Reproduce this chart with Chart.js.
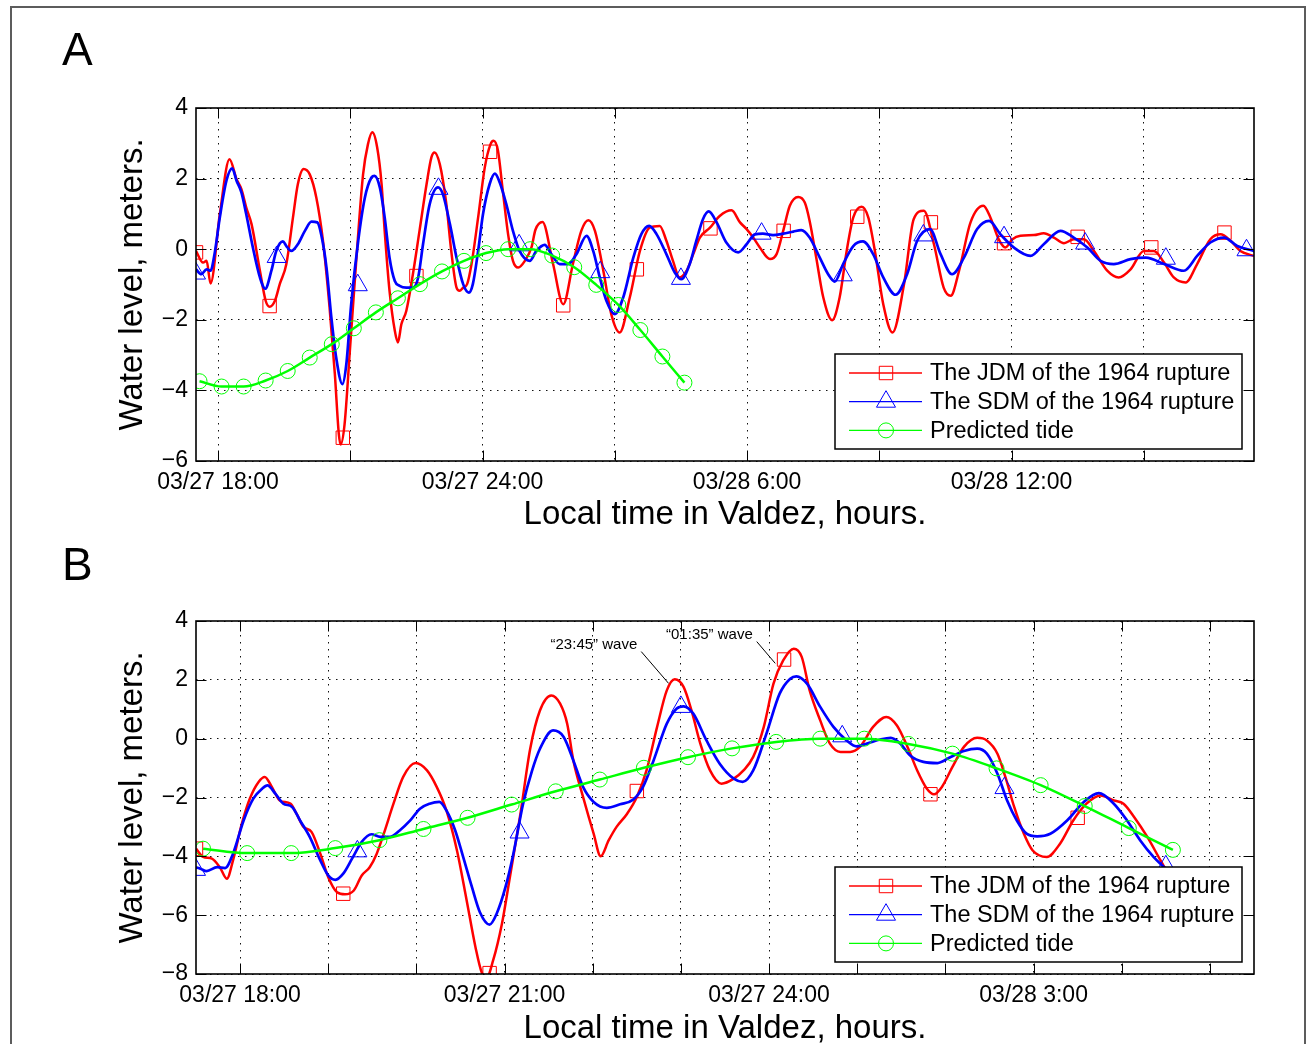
<!DOCTYPE html>
<html>
<head>
<meta charset="utf-8">
<title>Water level in Valdez</title>
<script src="https://cdn.jsdelivr.net/npm/chart.js@4.4.1/dist/chart.umd.min.js"></script>
<style>
  html, body { margin: 0; padding: 0; background: #fff; overflow: hidden; }
  body { width: 1308px; height: 1044px; position: relative; }
  #frame { position: absolute; left: 10px; top: 6px; width: 1292px; height: 1100px; border: 2px solid #5c5c5c; }
  canvas { position: absolute; left: 0; }
  #chartA { top: 0; }
  #chartB { top: 535px; }
</style>
</head>
<body>
<div id="frame"></div>
<canvas id="chartA" width="1308" height="535"></canvas>
<canvas id="chartB" width="1308" height="515"></canvas>
<script>
// ---- data (time in hours from 03/27 00:00, level in meters) ----
const legendLabels = ['The JDM of the 1964 rupture', 'The SDM of the 1964 rupture', 'Predicted tide'];
const yTitle = 'Water level, meters.';
const xTitle = 'Local time in Valdez, hours.';

// panel A
const gridHoursA = [18, 21, 24, 27, 30, 33, 36, 39];
const tickHoursA = [18, 24, 30, 36];
const tickLabelsA = ['03/27 18:00', '03/27 24:00', '03/28 6:00', '03/28 12:00'];

const jdmA = [
  [17.50,-0.05],[17.66,-0.38],[17.74,-0.33],[17.83,-0.97],[18.04,0.99],[18.26,2.55],[18.42,1.98],[18.53,1.70],
  [18.64,1.18],[18.76,0.71],[18.95,-0.61],[19.08,-1.46],[19.17,-1.63],[19.29,-1.46],[19.40,-0.99],[19.55,-0.42],
  [19.70,0.90],[19.81,1.84],[19.94,2.27],[20.08,2.12],[20.23,1.46],[20.38,0.24],[20.53,-1.65],[20.65,-3.54],
  [20.74,-5.24],[20.78,-5.53],[20.87,-4.96],[20.99,-2.88],[21.14,-0.24],[21.29,2.12],[21.40,2.97],[21.50,3.31],
  [21.61,2.88],[21.71,1.84],[21.78,0.52],[21.89,-1.18],[22.01,-2.31],[22.08,-2.64],[22.16,-2.12],[22.27,-1.75],
  [22.42,-0.71],[22.57,0.52],[22.73,1.84],[22.84,2.60],[22.91,2.74],[23.03,2.41],[23.18,1.27],[23.29,-0.05],
  [23.41,-1.09],[23.48,-1.18],[23.56,-1.09],[23.65,-0.99],[23.75,-0.42],[23.90,0.90],[24.05,2.31],[24.18,2.97],
  [24.25,3.07],[24.35,2.79],[24.46,1.65],[24.58,0.42],[24.69,-0.33],[24.81,-0.52],[24.96,-0.33],[25.11,0.05],
  [25.20,0.55],[25.36,0.77],[25.60,-0.42],[25.83,-1.56],[26.05,-0.42],[26.24,0.52],[26.40,0.82],[26.55,0.52],
  [26.74,-0.61],[26.92,-1.84],[27.11,-2.36],[27.34,-1.37],[27.57,-0.05],[27.79,0.61],[28.02,0.66],[28.17,0.24],
  [28.32,-0.33],[28.47,-0.80],[28.63,-0.61],[28.78,-0.14],[28.93,0.33],[29.16,0.61],[29.38,0.94],[29.65,1.10],
  [29.84,0.76],[29.99,0.57],[30.14,0.33],[30.29,0.05],[30.52,-0.28],[30.67,-0.14],[30.82,0.52],[30.97,1.23],
  [31.16,1.48],[31.31,1.32],[31.42,0.80],[31.57,-0.24],[31.73,-1.37],[31.93,-2.01],[32.10,-1.37],[32.26,-0.05],
  [32.41,0.90],[32.60,1.20],[32.75,0.90],[32.90,-0.05],[33.09,-1.56],[33.30,-2.36],[33.56,-1.00],[33.78,0.85],
  [34.01,1.09],[34.24,0.14],[34.46,-1.09],[34.62,-1.32],[34.81,-0.61],[35.07,0.76],[35.36,1.23],[35.52,0.90],
  [35.71,0.28],[35.86,0.05],[36.02,0.28],[36.20,0.38],[36.51,0.40],[36.73,0.45],[36.96,0.33],[37.19,0.17],
  [37.41,0.28],[37.64,0.28],[37.87,-0.05],[38.17,-0.61],[38.43,-0.80],[38.70,-0.57],[39.00,-0.05],[39.23,-0.05],
  [39.46,-0.38],[39.68,-0.80],[39.95,-0.94],[40.21,-0.42],[40.51,0.28],[40.74,0.42],[40.97,0.24],[41.19,-0.05],
  [41.50,-0.19]
];
const sdmA = [
  [17.50,-0.57],[17.62,-0.71],[17.74,-0.57],[17.83,-0.61],[17.92,-0.14],[18.04,0.90],[18.19,1.94],[18.32,2.29],
  [18.42,1.94],[18.53,1.61],[18.64,0.99],[18.79,0.05],[18.95,-0.80],[19.07,-1.12],[19.21,-0.61],[19.32,-0.05],
  [19.47,0.22],[19.55,0.09],[19.66,-0.05],[19.81,0.14],[19.97,0.52],[20.12,0.78],[20.25,0.76],[20.34,0.42],
  [20.46,-0.52],[20.57,-1.93],[20.68,-3.07],[20.82,-3.82],[20.91,-3.26],[21.02,-1.56],[21.18,0.24],[21.33,1.46],
  [21.48,2.03],[21.55,2.08],[21.67,1.75],[21.78,0.90],[21.89,-0.24],[22.01,-0.90],[22.12,-1.04],[22.27,-1.09],
  [22.42,-1.09],[22.54,-0.80],[22.65,0.14],[22.80,1.27],[22.99,1.75],[23.10,1.56],[23.26,0.71],[23.41,-0.24],
  [23.56,-0.99],[23.69,-1.23],[23.78,-0.99],[23.90,-0.05],[24.01,0.99],[24.16,1.84],[24.28,2.14],[24.39,1.89],
  [24.54,1.27],[24.69,0.52],[24.84,-0.05],[25.07,-0.33],[25.22,-0.05],[25.41,0.12],[25.56,-0.14],[25.75,-0.42],
  [25.94,-0.42],[26.13,-0.14],[26.36,0.38],[26.51,-0.05],[26.66,-0.80],[26.81,-1.46],[27.00,-1.84],[27.19,-1.37],
  [27.42,-0.24],[27.60,0.42],[27.78,0.66],[27.95,0.42],[28.17,-0.14],[28.36,-0.66],[28.51,-0.85],[28.70,-0.42],
  [28.85,0.24],[29.00,0.85],[29.13,1.07],[29.31,0.76],[29.53,0.19],[29.80,-0.09],[29.99,0.14],[30.18,0.42],
  [30.36,0.44],[30.59,0.40],[30.82,0.44],[31.05,0.50],[31.23,0.54],[31.42,0.33],[31.65,-0.24],[31.84,-0.71],
  [31.99,-0.92],[32.18,-0.42],[32.41,0.09],[32.63,0.22],[32.86,-0.14],[33.09,-0.80],[33.37,-1.29],[33.63,-0.71],
  [33.86,0.24],[34.15,0.57],[34.39,-0.14],[34.65,-0.71],[34.92,-0.24],[35.22,0.57],[35.49,0.80],[35.75,0.42],
  [36.05,0.05],[36.43,-0.19],[36.73,0.14],[37.11,0.52],[37.41,0.33],[37.72,0.05],[38.02,-0.33],[38.32,-0.42],
  [38.70,-0.28],[39.05,-0.24],[39.46,-0.42],[39.91,-0.61],[40.21,-0.19],[40.51,0.19],[40.82,0.33],[41.12,0.09],
  [41.50,-0.05]
];
const jdmMarksA = [
  [17.50,-0.09],[19.17,-1.61],[20.83,-5.34],[22.50,-0.76],[24.17,2.76],[25.83,-1.59],[27.50,-0.57],[29.17,0.59],
  [30.83,0.52],[32.50,0.92],[34.17,0.76],[35.83,0.17],[37.50,0.35],[39.17,0.05],[40.83,0.47]
];
const sdmMarksA = [
  [17.50,-0.69],[19.33,-0.22],[21.17,-1.02],[23.00,1.71],[24.83,0.11],[26.67,-0.65],[28.50,-0.84],[30.33,0.44],
  [32.17,-0.74],[34.00,0.39],[35.83,0.34],[37.67,0.16],[39.50,-0.27],[41.33,-0.03]
];

// predicted tide (same in both panels)
const tide = [
  [17.58,-3.74],[18.08,-3.89],[18.58,-3.89],[19.08,-3.72],[19.58,-3.45],[20.08,-3.07],[20.58,-2.69],[21.08,-2.24],
  [21.58,-1.79],[22.08,-1.39],[22.58,-0.99],[23.08,-0.63],[23.58,-0.33],[24.08,-0.11],[24.58,0.00],[25.08,0.00],
  [25.58,-0.18],[26.08,-0.51],[26.58,-1.01],[27.08,-1.58],[27.58,-2.29],[28.08,-3.04],[28.58,-3.78]
];

// panel B
const gridHoursB = [18, 19, 20, 21, 22, 23, 24, 25, 26, 27, 28, 29];
const tickHoursB = [18, 21, 24, 27];
const tickLabelsB = ['03/27 18:00', '03/27 21:00', '03/27 24:00', '03/28 3:00'];

const jdmB = [
  [17.50,-3.74],[17.58,-4.02],[17.68,-4.08],[17.77,-4.37],[17.85,-4.76],[17.92,-4.14],[18.02,-2.89],[18.11,-2.04],
  [18.21,-1.47],[18.28,-1.30],[18.36,-1.64],[18.45,-2.10],[18.57,-2.21],[18.64,-2.55],[18.72,-3.00],[18.81,-3.17],
  [18.91,-3.91],[19.00,-4.71],[19.10,-5.22],[19.19,-5.29],[19.29,-5.16],[19.38,-4.65],[19.47,-4.37],[19.55,-3.91],
  [19.63,-3.23],[19.74,-2.21],[19.85,-1.30],[19.99,-0.83],[20.12,-1.08],[20.23,-1.64],[20.34,-2.44],[20.46,-3.80],
  [20.57,-5.50],[20.67,-7.09],[20.74,-7.94],[20.80,-8.10],[20.87,-7.54],[20.97,-6.29],[21.06,-4.71],[21.18,-2.55],
  [21.29,-0.35],[21.40,0.95],[21.53,1.47],[21.63,1.19],[21.71,0.51],[21.78,-0.74],[21.89,-1.98],[22.01,-3.23],
  [22.09,-4.00],[22.18,-3.46],[22.27,-3.00],[22.39,-2.55],[22.50,-1.98],[22.61,-1.08],[22.73,0.40],[22.84,1.64],
  [22.93,2.02],[23.03,1.76],[23.12,0.96],[23.22,-0.17],[23.33,-1.08],[23.46,-1.53],[23.60,-1.36],[23.71,-1.08],
  [23.82,-0.62],[23.94,0.40],[24.05,1.87],[24.16,2.66],[24.28,3.06],[24.37,2.78],[24.46,1.64],[24.58,0.62],
  [24.69,-0.17],[24.81,-0.45],[24.92,-0.45],[25.03,-0.28],[25.18,0.40],[25.33,0.74],[25.45,0.45],[25.57,-0.28],
  [25.68,-1.08],[25.79,-1.70],[25.87,-1.89],[25.96,-1.64],[26.08,-0.96],[26.21,-0.28],[26.36,0.03],[26.47,-0.06],
  [26.59,-0.51],[26.68,-1.30],[26.78,-2.32],[26.89,-3.23],[26.99,-3.80],[27.15,-4.02],[27.30,-3.57],[27.45,-2.78],
  [27.60,-2.21],[27.76,-1.93],[27.91,-2.10],[28.02,-2.21],[28.14,-2.66],[28.29,-3.34],[28.44,-4.14],[28.55,-4.71],
  [28.70,-5.30]
];
const sdmB = [
  [17.50,-4.37],[17.55,-4.42],[17.62,-4.50],[17.74,-4.37],[17.83,-4.40],[17.92,-3.91],[18.04,-2.78],[18.15,-2.04],
  [18.25,-1.70],[18.31,-1.59],[18.40,-1.87],[18.49,-2.21],[18.59,-2.32],[18.68,-2.78],[18.79,-3.34],[18.91,-4.14],
  [19.00,-4.65],[19.08,-4.80],[19.17,-4.59],[19.27,-4.08],[19.38,-3.51],[19.49,-3.25],[19.59,-3.34],[19.70,-3.34],
  [19.81,-3.12],[19.93,-2.78],[20.04,-2.38],[20.15,-2.21],[20.26,-2.15],[20.34,-2.44],[20.44,-3.12],[20.53,-4.02],
  [20.63,-5.05],[20.72,-5.90],[20.83,-6.32],[20.91,-5.95],[21.01,-5.05],[21.10,-3.91],[21.21,-2.21],[21.31,-1.10],
  [21.40,-0.35],[21.55,0.28],[21.67,0.06],[21.78,-0.74],[21.89,-1.64],[22.01,-2.15],[22.16,-2.35],[22.31,-2.23],
  [22.46,-2.07],[22.57,-1.64],[22.69,-0.74],[22.84,0.51],[22.95,1.02],[23.03,1.10],[23.14,0.85],[23.29,-0.06],
  [23.44,-0.85],[23.60,-1.36],[23.70,-1.47],[23.82,-1.08],[23.97,0.17],[24.12,1.53],[24.24,2.04],[24.31,2.12],
  [24.43,1.87],[24.58,1.08],[24.73,0.40],[24.88,-0.06],[24.99,-0.26],[25.11,-0.17],[25.26,-0.03],[25.38,0.03],
  [25.49,-0.17],[25.60,-0.57],[25.75,-0.79],[25.91,-0.83],[26.06,-0.62],[26.21,-0.42],[26.36,-0.34],[26.47,-0.51],
  [26.59,-1.19],[26.70,-2.10],[26.81,-2.78],[26.92,-3.23],[27.04,-3.32],[27.19,-3.23],[27.38,-2.78],[27.57,-2.15],
  [27.74,-1.85],[27.91,-2.21],[28.06,-2.78],[28.21,-3.46],[28.36,-4.02],[28.48,-4.37],[28.65,-4.90]
];
const jdmMarksB = [
  [17.50,-3.74],[19.17,-5.27],[20.83,-7.97],[22.50,-1.78],[24.17,2.69],[25.83,-1.89],[27.50,-2.69]
];
const sdmMarksB = [
  [17.50,-4.46],[19.33,-3.83],[21.17,-3.19],[23.00,1.08],[24.83,0.08],[26.67,-1.68],[28.50,-4.34]
];

// callouts in panel B: text, leader tip (time, level), leader start (time, level)
const noteTexts = ['\u201C23:45\u201D wave', '\u201C01:35\u201D wave'];
const noteTips = [[22.86, 1.88], [24.07, 2.56]];
const noteStarts = [[22.55, 2.96], [23.86, 3.30]];

// ---- drawing ----
const FONT = '"Liberation Sans", Arial, Helvetica, sans-serif';
const RED = '#ff0000', BLUE = '#0000ff', GREEN = '#00ff00';
const TICK_LEN = 10.5;
const R_SQUARE = 9.5, R_TRI = 11, R_CIRCLE = 7.5;
const toXY = arr => arr.map(([x, y]) => ({x, y}));

function drawGlyph(ctx, style, r, cx, cy) {
  ctx.beginPath();
  if (style === 'rect') {
    const s = r * Math.SQRT1_2;
    ctx.rect(cx - s, cy - s, 2 * s, 2 * s);
  } else if (style === 'triangle') {
    for (let k = 0; k < 3; k++) {
      const ang = k * 2 * Math.PI / 3;
      const px = cx + Math.sin(ang) * r, py = cy - Math.cos(ang) * r;
      k === 0 ? ctx.moveTo(px, py) : ctx.lineTo(px, py);
    }
    ctx.closePath();
  } else {
    ctx.arc(cx, cy, r, 0, 2 * Math.PI);
  }
  ctx.stroke();
}

function overlay(cfg) {
  return {
    id: 'overlay',
    afterDraw(chart) {
      const {ctx, chartArea: a} = chart;
      const xs = chart.scales.x, ys = chart.scales.y;
      ctx.save();

      // inward tick marks on all four sides, and the box
      ctx.strokeStyle = '#000';
      ctx.lineWidth = 1;
      ctx.beginPath();
      xs.ticks.forEach(t => {
        const px = Math.round(xs.getPixelForValue(t.value)) + 0.5;
        ctx.moveTo(px, a.bottom); ctx.lineTo(px, a.bottom - TICK_LEN);
        ctx.moveTo(px, a.top); ctx.lineTo(px, a.top + TICK_LEN);
      });
      ys.ticks.forEach(t => {
        const py = Math.round(ys.getPixelForValue(t.value)) + 0.5;
        ctx.moveTo(a.left, py); ctx.lineTo(a.left + TICK_LEN, py);
        ctx.moveTo(a.right, py); ctx.lineTo(a.right - TICK_LEN, py);
      });
      ctx.stroke();
      ctx.lineWidth = 1.6;
      ctx.strokeRect(a.left, a.top, a.right - a.left, a.bottom - a.top);

      // callouts
      if (cfg.notes) {
        ctx.font = '15px ' + FONT;
        ctx.fillStyle = '#000';
        ctx.textAlign = 'right';
        ctx.textBaseline = 'middle';
        ctx.lineWidth = 1;
        cfg.notes.texts.forEach((txt, i) => {
          const tx = xs.getPixelForValue(cfg.notes.tips[i][0]), ty = ys.getPixelForValue(cfg.notes.tips[i][1]);
          const sx = xs.getPixelForValue(cfg.notes.starts[i][0]), sy = ys.getPixelForValue(cfg.notes.starts[i][1]);
          ctx.beginPath(); ctx.moveTo(sx, sy); ctx.lineTo(tx, ty); ctx.stroke();
          ctx.fillText(txt, sx - 4, sy - 7);
        });
      }

      // legend box
      const w = 407, h = 95;
      const lx = a.right - 12 - w, ly = a.bottom - 12 - h;
      ctx.fillStyle = '#fff';
      ctx.fillRect(lx, ly, w, h);
      ctx.strokeStyle = '#000';
      ctx.lineWidth = 1.5;
      ctx.strokeRect(lx, ly, w, h);
      const items = [[RED, 'rect', R_SQUARE], [BLUE, 'triangle', R_TRI], [GREEN, 'circle', R_CIRCLE]];
      ctx.font = '23.5px ' + FONT;
      ctx.textAlign = 'left';
      ctx.textBaseline = 'middle';
      items.forEach(([col, style, r], i) => {
        const cy = ly + 19 + i * 28.7;
        ctx.strokeStyle = col;
        ctx.lineWidth = 1.3;
        ctx.beginPath(); ctx.moveTo(lx + 14, cy); ctx.lineTo(lx + 87, cy); ctx.stroke();
        ctx.lineWidth = 1;
        drawGlyph(ctx, style, r, lx + 51, cy);
        ctx.fillStyle = '#000';
        ctx.fillText(legendLabels[i], lx + 95, cy + 1);
      });

      // panel letter
      ctx.font = '46px ' + FONT;
      ctx.fillStyle = '#000';
      ctx.textAlign = 'left';
      ctx.textBaseline = 'alphabetic';
      ctx.fillText(cfg.letter, 62, cfg.letterY);
      ctx.restore();
    }
  };
}

function buildChart(id, p) {
  const datasets = [
    {data: toXY(p.jdm), borderColor: RED, borderWidth: 2.5, pointRadius: 0, cubicInterpolationMode: 'monotone', order: 6},
    {data: toXY(p.jdmMarks), showLine: false, pointStyle: 'rect', pointRadius: R_SQUARE, pointBorderWidth: 1,
     pointBorderColor: RED, pointBackgroundColor: 'rgba(0,0,0,0)', order: 5},
    {data: toXY(p.sdm), borderColor: BLUE, borderWidth: 2.7, pointRadius: 0, cubicInterpolationMode: 'monotone', order: 4},
    {data: toXY(p.sdmMarks), showLine: false, pointStyle: 'triangle', pointRadius: R_TRI, pointBorderWidth: 1,
     pointBorderColor: BLUE, pointBackgroundColor: 'rgba(0,0,0,0)', order: 3},
    {data: toXY(tide), borderColor: GREEN, borderWidth: 2.5, cubicInterpolationMode: 'monotone',
     pointStyle: 'circle', pointRadius: R_CIRCLE, pointBorderWidth: 1, pointBorderColor: GREEN,
     pointBackgroundColor: 'rgba(0,0,0,0)', order: 1}
  ];
  return new Chart(document.getElementById(id), {
    type: 'line',
    data: {datasets},
    options: {
      responsive: false,
      devicePixelRatio: 1,
      animation: false,
      events: [],
      layout: {padding: {left: 0, top: p.top, right: 54, bottom: 0}},
      plugins: {legend: {display: false}, tooltip: {enabled: false}},
      scales: {
        x: {
          type: 'linear',
          min: p.xMin, max: p.xMax,
          afterBuildTicks: s => { s.ticks = p.grid.map(v => ({value: v})); },
          afterFit: s => { s.height = p.xAxisHeight; },
          ticks: {
            autoSkip: false, maxRotation: 0, padding: 8, color: '#000',
            font: {family: FONT, size: 23},
            callback: v => { const i = p.tickHours.indexOf(v); return i >= 0 ? p.tickLabels[i] : ''; }
          },
          grid: {color: '#111', lineWidth: 1, drawTicks: false, borderDash: [1.5, 5.5]},
          border: {display: false, dash: [1.5, 5.5]},
          title: {display: true, text: xTitle, color: '#000', font: {family: FONT, size: 33},
                  padding: {top: 0, bottom: p.xTitlePad}}
        },
        y: {
          min: p.yMin, max: 4,
          afterFit: s => { s.width = 196; },
          ticks: {
            stepSize: 2, padding: 8, color: '#000',
            font: {family: FONT, size: 23},
            callback: v => String(v).replace('-', '\u2212')
          },
          grid: {color: '#111', lineWidth: 1, drawTicks: false, borderDash: [1.5, 5.5]},
          border: {display: false, dash: [1.5, 5.5]},
          title: {display: true, text: yTitle, color: '#000', font: {family: FONT, size: 33},
                  padding: {top: 113, bottom: 0}}
        }
      }
    },
    plugins: [overlay(p.overlay)]
  });
}

buildChart('chartA', {
  jdm: jdmA, sdm: sdmA, jdmMarks: jdmMarksA, sdmMarks: sdmMarksA,
  xMin: 17.5, xMax: 41.5, yMin: -6, grid: gridHoursA, tickHours: tickHoursA, tickLabels: tickLabelsA,
  top: 108, xAxisHeight: 74, xTitlePad: 0,
  overlay: {letter: 'A', letterY: 65}
});

buildChart('chartB', {
  jdm: jdmB, sdm: sdmB, jdmMarks: jdmMarksB, sdmMarks: sdmMarksB,
  xMin: 17.5, xMax: 29.5, yMin: -8, grid: gridHoursB, tickHours: tickHoursB, tickLabels: tickLabelsB,
  top: 86, xAxisHeight: 76, xTitlePad: 1,
  overlay: {letter: 'B', letterY: 45, notes: {texts: noteTexts, tips: noteTips, starts: noteStarts}}
});
</script>
</body>
</html>
